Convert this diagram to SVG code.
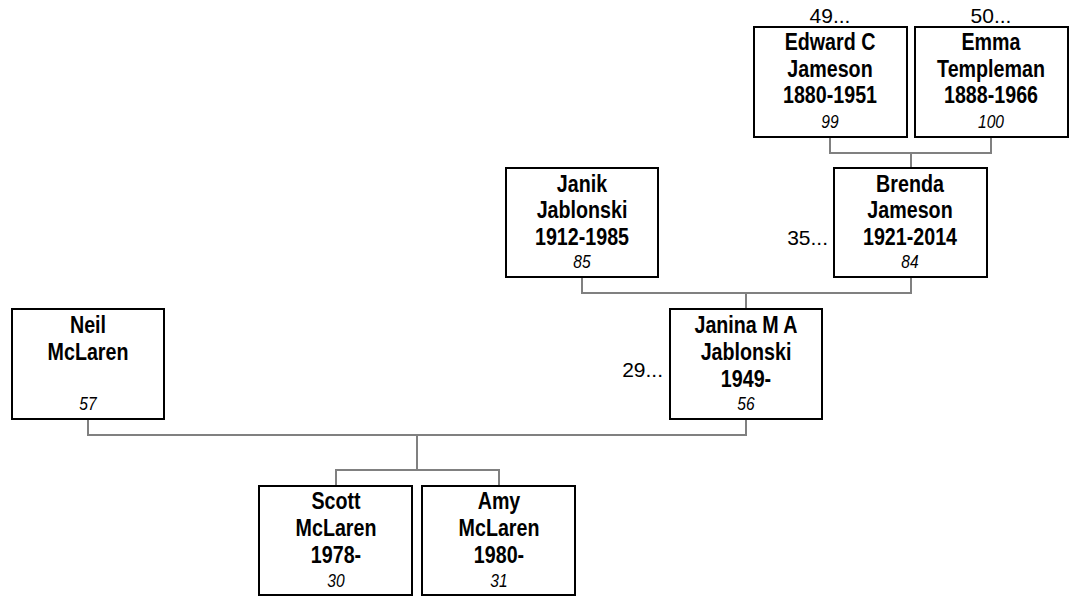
<svg xmlns="http://www.w3.org/2000/svg" width="1073" height="596" viewBox="0 0 1073 596">
<style>
.box{fill:#fff;stroke:#000;stroke-width:2}
.n{font-family:"Liberation Sans",Arial,sans-serif;font-weight:bold;font-size:24px;text-anchor:middle;fill:#000}
.i{font-family:"Liberation Sans",Arial,sans-serif;font-style:italic;font-size:19px;text-anchor:middle;fill:#000}
.m{font-family:"Liberation Sans",Arial,sans-serif;font-size:21px;fill:#000}
.c{fill:none;stroke:#808080;stroke-width:2}
</style>
<rect width="1073" height="596" fill="#fff"/>
<g id="connectors">
<path class="c" d="M830,137V153H991V137M911,153V168"/>
<path class="c" d="M582,277V293H911V277M746,293V309"/>
<path class="c" d="M88,419V435H746V419M417,435V470"/>
<path class="c" d="M336,486V470H499V486"/>
</g>
<g id="edward">
<rect class="box" x="754" y="27" width="153" height="110"/>
<text class="m" x="830" y="23" text-anchor="middle">49...</text>
<g transform="translate(830,0) scale(0.82,1)">
<text class="n" x="0" y="50">Edward C</text>
<text class="n" x="0" y="77">Jameson</text>
<text class="n" x="0" y="103">1880-1951</text>
<text class="i" x="0" y="128">99</text>
</g>
</g>
<g id="emma">
<rect class="box" x="915" y="27" width="153" height="110"/>
<text class="m" x="991" y="23" text-anchor="middle">50...</text>
<g transform="translate(991,0) scale(0.82,1)">
<text class="n" x="0" y="50">Emma</text>
<text class="n" x="0" y="77">Templeman</text>
<text class="n" x="0" y="103">1888-1966</text>
<text class="i" x="0" y="128">100</text>
</g>
</g>
<g id="janik">
<rect class="box" x="506" y="168" width="152" height="109"/>
<g transform="translate(582,0) scale(0.82,1)">
<text class="n" x="0" y="192">Janik</text>
<text class="n" x="0" y="218">Jablonski</text>
<text class="n" x="0" y="245">1912-1985</text>
<text class="i" x="0" y="268">85</text>
</g>
</g>
<g id="brenda">
<rect class="box" x="834" y="168" width="153" height="109"/>
<text class="m" x="828" y="245" text-anchor="end">35...</text>
<g transform="translate(910,0) scale(0.82,1)">
<text class="n" x="0" y="192">Brenda</text>
<text class="n" x="0" y="218">Jameson</text>
<text class="n" x="0" y="245">1921-2014</text>
<text class="i" x="0" y="268">84</text>
</g>
</g>
<g id="neil">
<rect class="box" x="12" y="309" width="152" height="110"/>
<g transform="translate(88,0) scale(0.82,1)">
<text class="n" x="0" y="333">Neil</text>
<text class="n" x="0" y="360">McLaren</text>
<text class="i" x="0" y="410">57</text>
</g>
</g>
<g id="janina">
<rect class="box" x="670" y="309" width="152" height="110"/>
<text class="m" x="663" y="377" text-anchor="end">29...</text>
<g transform="translate(746,0) scale(0.82,1)">
<text class="n" x="0" y="333">Janina M A</text>
<text class="n" x="0" y="360">Jablonski</text>
<text class="n" x="0" y="387">1949-</text>
<text class="i" x="0" y="410">56</text>
</g>
</g>
<g id="scott">
<rect class="box" x="259" y="486" width="153" height="109"/>
<g transform="translate(336,0) scale(0.82,1)">
<text class="n" x="0" y="509">Scott</text>
<text class="n" x="0" y="536">McLaren</text>
<text class="n" x="0" y="563">1978-</text>
<text class="i" x="0" y="587">30</text>
</g>
</g>
<g id="amy">
<rect class="box" x="422" y="486" width="153" height="109"/>
<g transform="translate(499,0) scale(0.82,1)">
<text class="n" x="0" y="509">Amy</text>
<text class="n" x="0" y="536">McLaren</text>
<text class="n" x="0" y="563">1980-</text>
<text class="i" x="0" y="587">31</text>
</g>
</g>
</svg>
